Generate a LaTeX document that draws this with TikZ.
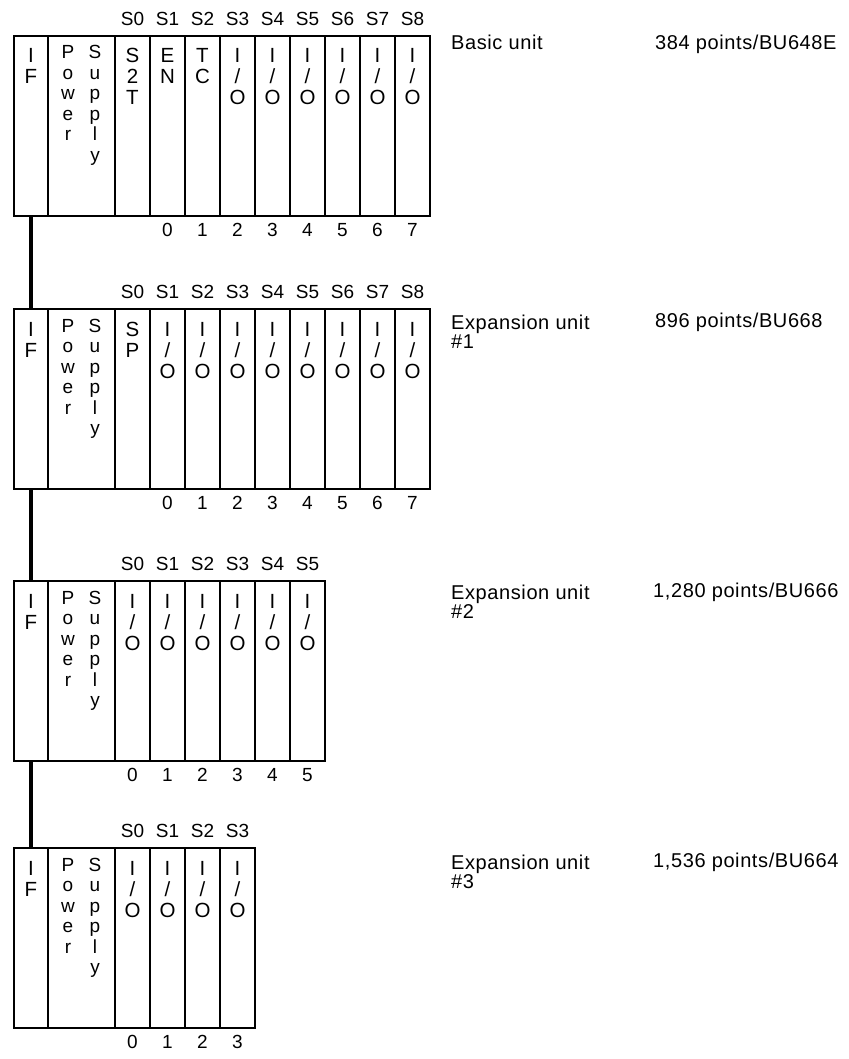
\documentclass[tikz,border=0pt]{standalone}
\usepackage{fontspec}
\setmainfont{Liberation Sans}
\newfontfamily\widefont[LetterSpace=3]{Liberation Sans}
\usetikzlibrary{positioning}

\newcommand{\io}{I\\/\\O}
\newcommand{\stack}[1]{\parbox[t]{2em}{\centering#1}}

\begin{document}
\begin{tikzpicture}[x=1pt,y=-1pt,
    box/.style={draw,line width=1.2pt,inner sep=0pt,outer sep=0pt,minimum height=180pt,anchor=north west},
    letters/.style={anchor=base,inner sep=0pt,font=\fontsize{20.5}{21}\selectfont},
    power/.style={anchor=base,inner sep=0pt,font=\fontsize{19}{20.5}\selectfont},
    tag/.style={anchor=base,inner sep=0pt,font=\fontsize{19}{19}\selectfont},
    unitname/.style={anchor=base west,inner sep=0pt,font=\widefont\fontsize{20}{19}\selectfont},
    bus/.style={line width=3.5pt}]
  \useasboundingbox (0,0) rectangle (848,1059);

  % basic unit
  \node[box,minimum width=34pt] (if1) at (14,36) {};
  \node[box,minimum width=67pt] (ps1) at (48,36) {};
  \node[letters] (if1t) at ([yshift=-27pt]if1.north) {\stack{I\\F}};
  \node[power] (pw1t) at (68,59) {\stack{P\\o\\w\\e\\r}};
  \node[power] (sp1t) at (95,59) {\stack{S\\u\\p\\p\\l\\y}};
  \foreach \t [count=\i from 0] in {{S\\2\\T},{E\\N},{T\\C},\io,\io,\io,\io,\io,\io} {
    \node[box,minimum width=35pt] (u1s\i) at ({115+35*\i},36) {};
    \node[letters] (u1t\i) at ([yshift=-27pt]u1s\i.north) {\stack{\t}};
    \node[tag] (u1l\i) at ([yshift=10.7pt]u1s\i.north) {S\i};
  }
  \foreach \i in {1,...,8} {
    \pgfmathtruncatemacro{\n}{\i-1}
    \node[tag] (u1n\i) at ([yshift=-20.6pt]u1s\i.south) {\n};
  }
  \node[unitname] (name1) at (451,50) {Basic unit};
  \node[unitname] (pts1) at (655,50) {384 points/BU648E};

  % expansion unit 1
  \node[box,minimum width=34pt] (if2) at (14,309) {};
  \node[box,minimum width=67pt] (ps2) at (48,309) {};
  \node[letters] (if2t) at ([yshift=-27pt]if2.north) {\stack{I\\F}};
  \node[power] (pw2t) at (68,332) {\stack{P\\o\\w\\e\\r}};
  \node[power] (sp2t) at (95,332) {\stack{S\\u\\p\\p\\l\\y}};
  \foreach \t [count=\i from 0] in {{S\\P},\io,\io,\io,\io,\io,\io,\io,\io} {
    \node[box,minimum width=35pt] (u2s\i) at ({115+35*\i},309) {};
    \node[letters] (u2t\i) at ([yshift=-27pt]u2s\i.north) {\stack{\t}};
    \node[tag] (u2l\i) at ([yshift=10.7pt]u2s\i.north) {S\i};
  }
  \foreach \i in {1,...,8} {
    \pgfmathtruncatemacro{\n}{\i-1}
    \node[tag] (u2n\i) at ([yshift=-20.6pt]u2s\i.south) {\n};
  }
  \node[unitname] (name2) at (451,329) {\parbox[t]{160pt}{\raggedright Expansion unit\\\#1}};
  \node[unitname] (pts2) at (655,327) {896 points/BU668};

  % expansion unit 2
  \node[box,minimum width=34pt] (if3) at (14,581) {};
  \node[box,minimum width=67pt] (ps3) at (48,581) {};
  \node[letters] (if3t) at ([yshift=-27pt]if3.north) {\stack{I\\F}};
  \node[power] (pw3t) at (68,604) {\stack{P\\o\\w\\e\\r}};
  \node[power] (sp3t) at (95,604) {\stack{S\\u\\p\\p\\l\\y}};
  \foreach \i in {0,...,5} {
    \node[box,minimum width=35pt] (u3s\i) at ({115+35*\i},581) {};
    \node[letters] (u3t\i) at ([yshift=-27pt]u3s\i.north) {\stack{\io}};
    \node[tag] (u3l\i) at ([yshift=10.7pt]u3s\i.north) {S\i};
    \node[tag] (u3n\i) at ([yshift=-20.6pt]u3s\i.south) {\i};
  }
  \node[unitname] (name3) at (451,599) {\parbox[t]{160pt}{\raggedright Expansion unit\\\#2}};
  \node[unitname] (pts3) at (653,597) {1,280 points/BU666};

  % expansion unit 3
  \node[box,minimum width=34pt] (if4) at (14,848) {};
  \node[box,minimum width=67pt] (ps4) at (48,848) {};
  \node[letters] (if4t) at ([yshift=-27pt]if4.north) {\stack{I\\F}};
  \node[power] (pw4t) at (68,871) {\stack{P\\o\\w\\e\\r}};
  \node[power] (sp4t) at (95,871) {\stack{S\\u\\p\\p\\l\\y}};
  \foreach \i in {0,...,3} {
    \node[box,minimum width=35pt] (u4s\i) at ({115+35*\i},848) {};
    \node[letters] (u4t\i) at ([yshift=-27pt]u4s\i.north) {\stack{\io}};
    \node[tag] (u4l\i) at ([yshift=10.7pt]u4s\i.north) {S\i};
    \node[tag] (u4n\i) at ([yshift=-20.6pt]u4s\i.south) {\i};
  }
  \node[unitname] (name4) at (451,869) {\parbox[t]{160pt}{\raggedright Expansion unit\\\#3}};
  \node[unitname] (pts4) at (653,867) {1,536 points/BU664};

  % bus between the units
  \draw[bus] (if1.south) -- (if2.north);
  \draw[bus] (if2.south) -- (if3.north);
  \draw[bus] (if3.south) -- (if4.north);
\end{tikzpicture}
\end{document}
